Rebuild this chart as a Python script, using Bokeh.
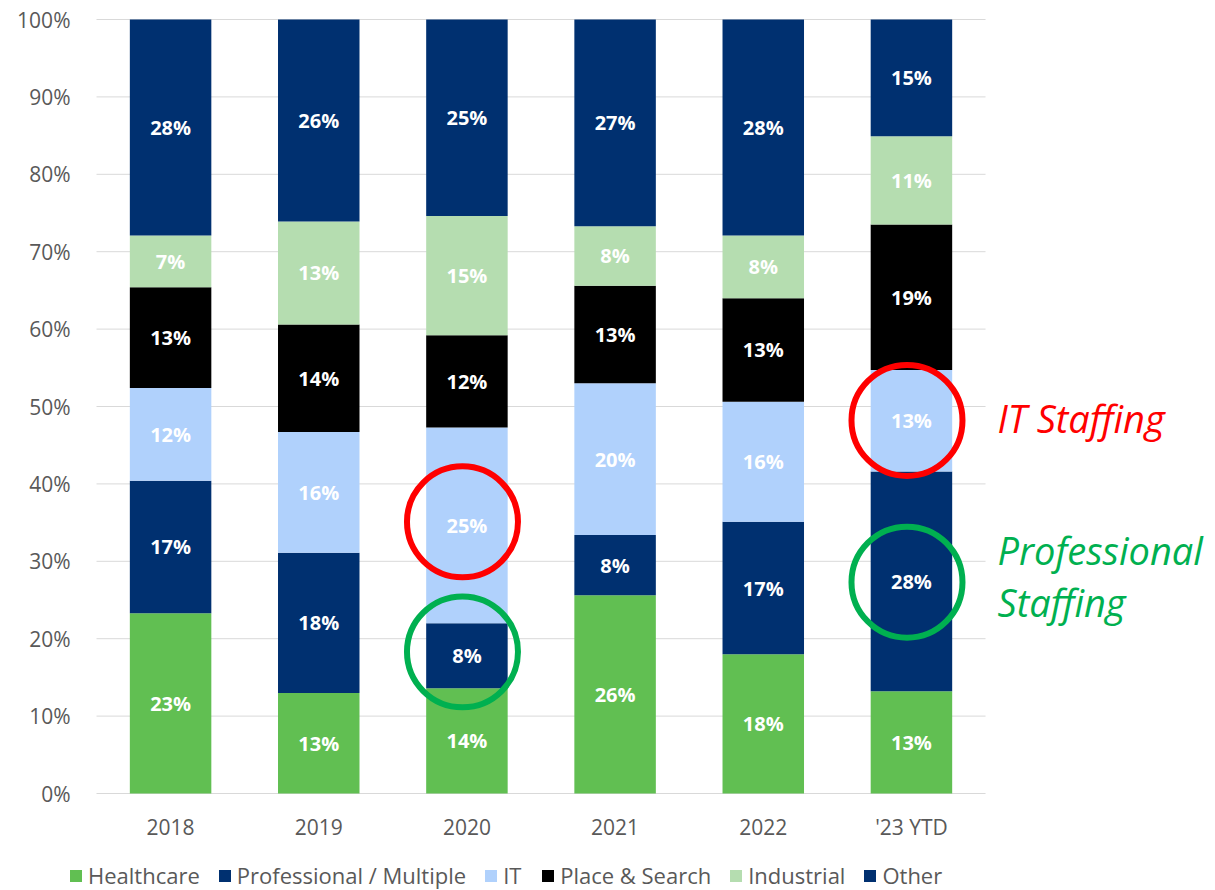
from bokeh.plotting import figure
from bokeh.models import (Range1d, NumeralTickFormatter, Legend, LegendItem,
                          ColumnDataSource, FixedTicker)
from bokeh.core.properties import value
from bokeh.embed import file_html
from bokeh.resources import INLINE

years = ["2018", "2019", "2020", "2021", "2022", "'23 YTD"]
series = ["Healthcare", "Professional / Multiple", "IT", "Place & Search", "Industrial", "Other"]
healthcare   = [23.3, 13.0, 13.6, 25.6, 18.0, 13.2]
professional = [17.1, 18.1, 8.4, 7.8, 17.1, 28.4]
it_staff     = [12.0, 15.6, 25.3, 19.6, 15.5, 13.1]
place_search = [13.0, 13.9, 11.9, 12.6, 13.4, 18.8]
industrial   = [6.7, 13.3, 15.4, 7.7, 8.1, 11.4]
other        = [27.9, 26.1, 25.4, 26.7, 27.9, 15.1]
colors = ["#61BF52", "#003070", "#B0D1FC", "#000000", "#B5DDB0", "#003070"]
y_ticks = [0.0, 0.1, 0.2, 0.3, 0.4, 0.5, 0.6, 0.7, 0.8, 0.9, 1.0]

# highlight annotations (category index, share)
circ_x = [2.47, 5.47, 2.47, 5.47]
circ_y = [0.351, 0.482, 0.183, 0.273]
circ_c = ["#FF0000", "#FF0000", "#00B050", "#00B050"]
note_text = ["IT Staffing", "Professional", "Staffing"]
note_y = [0.4845, 0.315, 0.248]
note_c = ["#FF0000", "#00B050", "#00B050"]

FONT = "Open Sans"
GREY = "#595959"

xpos = [i + 0.5 for i in range(len(years))]
keys = ["hc", "pr", "it", "ps", "ind", "oth"]
cols = [healthcare, professional, it_staff, place_search, industrial, other]
data = {"x": xpos}
for k, c in zip(keys, cols):
    data[k] = [v / 100 for v in c]
src = ColumnDataSource(data)

W, H = 1215, 890
unit = 148.17
p = figure(x_range=Range1d(-96 / unit, (W - 96) / unit),
           y_range=Range1d(-(H - 793) / 774, 1 + 19 / 774),
           width=W, height=H, min_border=0,
           output_backend="svg", toolbar_location=None)

# gridlines limited to the bar area
p.segment(x0=[0] * len(y_ticks), x1=[len(years)] * len(y_ticks), y0=y_ticks, y1=y_ticks,
          line_color="#D9D9D9", line_width=1)

rs = p.vbar_stack(keys, x="x", width=0.55, color=colors, line_color=None, source=src)

# value labels
lx, ly, lt = [], [], []
for yi in range(len(years)):
    base = 0.0
    for c in cols:
        v = c[yi]
        lx.append(xpos[yi])
        ly.append((base + v / 2) / 100)
        lt.append(f"{round(v):d}%")
        base += v
p.text(x=lx, y=ly, text=lt, text_color="white", text_font=value(FONT),
       text_font_style="bold", text_font_size="20px", text_align="center",
       text_baseline="middle")

p.scatter(x=circ_x, y=circ_y, size=111, fill_color=None, line_color=circ_c, line_width=6)

p.text(x=[len(years) + 0.081] * 3, y=note_y, text=note_text, text_color=note_c,
       text_font=value(FONT), text_font_style="italic", text_font_size="38px",
       text_baseline="middle", text_align="left")

# axes
p.yaxis.fixed_location = 0
p.yaxis.ticker = FixedTicker(ticks=y_ticks)
p.yaxis.formatter = NumeralTickFormatter(format="0%")
p.yaxis.major_label_standoff = 20
p.xaxis.fixed_location = 0
p.xaxis.ticker = FixedTicker(ticks=xpos)
p.xaxis.major_label_overrides = {x: y for x, y in zip(xpos, years)}
p.xaxis.major_label_standoff = 13
for ax in (p.xaxis, p.yaxis):
    ax.axis_line_color = None
    ax.major_tick_line_color = None
    ax.minor_tick_line_color = None
    ax.major_label_text_font = FONT
    ax.major_label_text_font_size = "21px"
    ax.major_label_text_color = GREY
p.grid.grid_line_color = None
p.outline_line_color = None

items = [LegendItem(label=s, renderers=[r]) for s, r in zip(series, rs)]
legend = Legend(items=items, orientation="horizontal", location=(68, 0),
                border_line_color=None, background_fill_alpha=0,
                label_text_font=FONT, label_text_font_size="22px", label_text_color=GREY,
                glyph_width=15, glyph_height=15, label_standoff=5, spacing=17,
                padding=0, margin=0)
p.add_layout(legend, "center")

open("out.html", "w").write(file_html(p, INLINE))
